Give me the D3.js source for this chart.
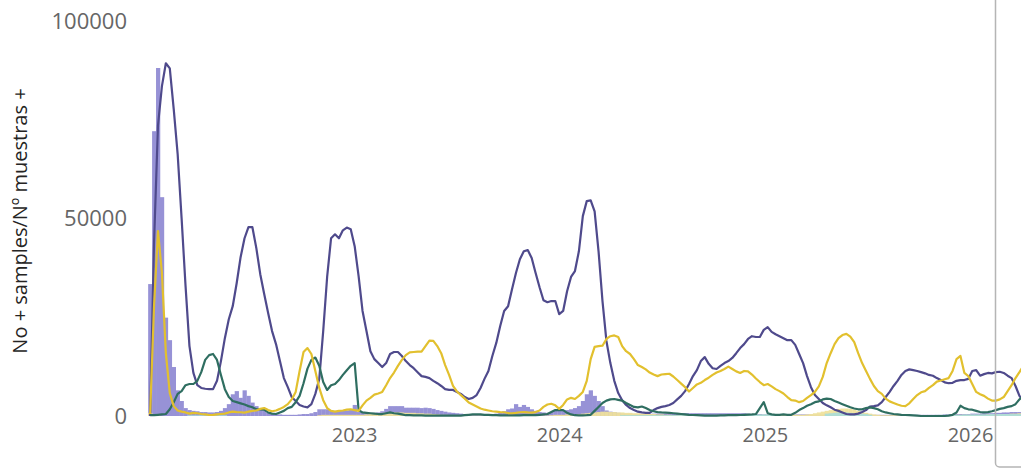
<!DOCTYPE html>
<html>
<head>
<meta charset="utf-8">
<script src="https://cdn.jsdelivr.net/npm/d3@7"></script>
<style>
  html, body { margin: 0; padding: 0; background: #ffffff; }
  svg { display: block; }
</style>
</head>
<body>
<div id="chart"></div>
<script>
// ---------------- DATA (weekly, starting 2022-01-03) ----------------
const startWeek = "2022-01-03";

const purpleLine = [
  0, 44000, 73600, 83500, 89300, 88000, 77700, 66300, 50100, 33000,
  17700, 10900, 7800, 7100, 6900, 6800, 6800, 8900, 13900, 19700,
  24500, 27800, 33600, 40200, 45000, 47800, 47800, 42500, 35900, 30900,
  26100, 21500, 18200, 13900, 9600, 7300, 4800, 3800, 2800, 2400,
  2200, 3000, 5600, 9400, 21500, 35200, 45000, 46000, 45000, 47000,
  47700, 47300, 43000, 35400, 26600, 21500, 16400, 14400, 13400, 12400,
  13400, 15700, 16200, 16200, 15200, 13900, 12900, 12100, 11100, 10100,
  9900, 9600, 8900, 8300, 7600, 6800, 6600, 6600, 6100, 5600,
  4800, 4300, 4600, 5300, 7100, 9400, 11400, 15200, 18500, 22800,
  26600, 27800, 32100, 36200, 39700, 41700, 42000, 40000, 36200, 32600,
  29300, 28800, 29100, 29100, 25800, 26600, 31600, 35200, 36700, 41700,
  50600, 54400, 54600, 51800, 41700, 29100, 19000, 13400, 8900, 5800,
  4000, 2800, 2000, 1500, 1100, 900, 800, 800, 1500, 2000,
  2300, 2500, 2800, 3300, 4200, 5100, 6300, 8100, 10100, 11600,
  13900, 14900, 13200, 12100, 11900, 12700, 13400, 13900, 14700, 15900,
  17200, 18200, 19500, 20200, 20000, 20000, 21800, 22500, 21300, 20700,
  20200, 19700, 19200, 19200, 18000, 15700, 13400, 10100, 7300, 5300,
  4300, 3300, 2700, 2200, 1600, 1300, 900, 500, 400, 400,
  600, 1000, 1500, 2400, 2500, 2700, 3500, 4800, 6100, 7600,
  8900, 10400, 11400, 11800, 11600, 11400, 11100, 10800, 10400, 10200,
  9600, 9100, 8500, 8300, 8400, 8900, 9100, 9100, 9400, 11400,
  11600, 10200, 10600, 10900, 10800, 11100, 11200, 10900, 10200, 9600,
  7600, 5100, 3800
];

const yellowLine = [
  500, 28000, 46800, 36200, 15900, 5800, 2500, 1400, 1100, 900,
  600, 800, 700, 500, 400, 250, 300, 400, 500, 600,
  900, 1100, 1000, 950, 850, 1100, 1300, 1400, 1800, 2000,
  1500, 1200, 1400, 1800, 2300, 3000, 4200, 6100, 11400, 16200,
  17200, 15700, 11400, 7100, 4000, 2000, 1300, 1100, 1300, 1400,
  1600, 1700, 1500, 1300, 2700, 3900, 4600, 5400, 5700, 6100,
  7800, 9600, 11000, 12700, 14200, 15400, 16100, 16200, 16300, 16300,
  17700, 19100, 19000, 17700, 15900, 12900, 10400, 7600, 6200, 5300,
  4400, 3400, 2900, 2400, 1900, 1600, 1400, 1200, 1100, 1000,
  950, 750, 700, 800, 950, 1000, 900, 850, 1000, 1400,
  2300, 2900, 3100, 2700, 1800, 2800, 4200, 4600, 4300, 5100,
  6100, 8900, 14400, 17500, 17700, 17800, 19500, 20200, 20400, 20000,
  17700, 16400, 15700, 14400, 12900, 12400, 11800, 11000, 10500, 10100,
  10500, 10600, 10700, 10000, 9100, 8200, 7300, 6200, 7100, 8000,
  8400, 9100, 9700, 10400, 11000, 11400, 11900, 12500, 11900, 11300,
  10900, 11400, 11300, 10500, 9500, 8600, 7800, 8100, 7500, 6800,
  6300, 5700, 4800, 4000, 3900, 3500, 3800, 4600, 5300, 6100,
  7500, 9900, 13400, 15900, 18200, 19700, 20500, 20800, 20100, 18700,
  15900, 13400, 11400, 9400, 7600, 6300, 5600, 4400, 3700, 3300,
  2900, 2600, 2500, 3200, 4300, 5300, 6000, 6300, 7100, 7800,
  8700, 9000, 9300, 9600, 11400, 14400, 15200, 10900, 10100, 8100,
  6100, 5500, 5100, 4400, 3900, 3900, 4200, 4800, 6300, 7800,
  9600, 11100, 12700
];

const greenLine = [
  200, 200, 300, 400, 500, 1700, 3500, 5600, 6300, 7800,
  8100, 8100, 8900, 11100, 14200, 15400, 15700, 14200, 10400, 6800,
  4800, 3800, 3500, 3200, 2900, 2500, 2200, 1700, 1700, 1600,
  900, 600, 500, 900, 1300, 2000, 2300, 3500, 5100, 8300,
  12000, 14200, 14800, 12700, 8600, 6600, 7800, 8100, 9100, 10400,
  11600, 12700, 13400, 1500, 900, 800, 700, 600, 500, 500,
  700, 900, 700, 600, 400, 200, 200, 150, 150, 150,
  100, 100, 100, 100, 100, 100, 100, 100, 100, 100,
  200, 300, 400, 400, 400, 300, 300, 200, 200, 150,
  150, 150, 150, 150, 150, 200, 200, 200, 200, 300,
  400, 500, 1000, 1500, 1500, 1500, 800, 400, 200, 150,
  150, 200, 300, 1300, 2300, 3300, 3900, 4200, 4300, 4100,
  3900, 3300, 2800, 2300, 2200, 2400, 2000, 1500, 1200, 1000,
  900, 850, 800, 700, 600, 500, 400, 300, 250, 200,
  150, 100, 100, 100, 100, 150, 150, 200, 200, 200,
  250, 300, 350, 400, 500, 2000, 3500, 700, 400, 300,
  300, 400, 300, 300, 800, 1500, 2000, 2600, 3000, 3500,
  3700, 4200, 4400, 4300, 3800, 3400, 3000, 2600, 2200, 1900,
  1700, 1700, 2000, 2200, 2000, 1700, 1200, 900, 700, 500,
  400, 300, 250, 200, 150, 100, 0, 0, 0, 0,
  0, 0, 0, 100, 300, 900, 2600, 2000, 1700, 1600,
  1300, 1000, 900, 1000, 1200, 1500, 1800, 2000, 2300, 2500,
  3000, 4200, 5000
];

const purpleBars = [
  33400, 72100, 88100, 55400, 24900, 19200, 12400, 6500, 3800, 2000,
  1500, 1300, 1200, 1000, 1000, 900, 900, 1000, 1300, 2000,
  3000, 5500, 6300, 4600, 6500, 5100, 3400, 2500, 1700, 1500,
  800, 500, 400, 400, 300, 300, 300, 300, 400, 500,
  500, 700, 1000, 1700, 1700, 1700, 1400, 1300, 1300, 1300,
  1400, 1500, 2800, 1000, 800, 800, 800, 800, 900, 1200,
  1800, 2500, 2500, 2500, 2500, 2100, 2100, 2100, 2100, 2000,
  2100, 2000, 1800, 1500, 1300, 1100, 900, 800, 700, 600,
  500, 400, 400, 400, 400, 400, 500, 500, 600, 900,
  1200, 1700, 1900, 3000, 2300, 2800, 2300, 1700, 1300, 1000,
  900, 800, 1000, 1300, 1300, 1300, 1500, 1700, 2000, 2500,
  3800, 5500, 6500, 5100, 3800, 2500, 1400, 1100, 1000, 800,
  700, 600, 600, 500, 500, 500, 500, 500, 600, 600,
  600, 600, 600, 600, 600, 700, 700, 700, 700, 700,
  700, 700, 700, 700, 700, 700, 700, 700, 700, 700,
  700, 700, 600, 500, 500, 500, 400, 400, 400, 400,
  400, 400, 400, 400, 400, 400, 400, 400, 400, 400,
  400, 400, 300, 300, 300, 300, 300, 300, 300, 300,
  300, 300, 300, 300, 300, 300, 300, 300, 300, 300,
  300, 300, 300, 300, 300, 300, 300, 300, 300, 300,
  300, 300, 400, 400, 400, 500, 500, 500, 500, 600,
  600, 600, 700, 700, 700, 800, 800, 900, 900, 1000,
  1000, 1000, 1100
];

const yellowBars = [
  800, 500, 300, 0, 0, 0, 0, 0, 0, 0,
  0, 0, 0, 0, 0, 0, 0, 0, 0, 0,
  0, 0, 0, 0, 0, 0, 0, 0, 0, 0,
  0, 0, 0, 0, 0, 0, 0, 0, 0, 0,
  0, 0, 0, 200, 300, 300, 300, 300, 300, 300,
  300, 300, 300, 300, 300, 400, 500, 600, 700, 800,
  800, 900, 900, 900, 900, 800, 800, 800, 700, 700,
  600, 600, 500, 400, 300, 300, 200, 200, 200, 200,
  100, 100, 100, 100, 100, 100, 100, 100, 100, 100,
  100, 100, 100, 100, 100, 100, 100, 100, 100, 100,
  100, 100, 200, 300, 300, 300, 400, 400, 500, 500,
  600, 700, 800, 900, 1000, 1100, 1100, 1000, 1000, 900,
  900, 800, 800, 700, 700, 600, 600, 500, 500, 400,
  400, 300, 300, 200, 200, 200, 200, 200, 200, 200,
  200, 200, 200, 200, 200, 200, 200, 200, 200, 200,
  200, 200, 200, 200, 200, 300, 300, 300, 300, 300,
  300, 300, 300, 300, 300, 300, 300, 400, 500, 700,
  900, 1100, 1300, 1500, 1700, 1800, 1900, 1900, 1800, 1600,
  1300, 1000, 800, 600, 400, 300, 200, 200, 200, 200,
  200, 200, 200, 200, 200, 200, 200, 200, 200, 200,
  200, 200, 200, 200, 300, 300, 300, 300, 300, 300,
  300, 300, 300, 400, 400, 400, 500, 500, 500, 600,
  600, 700, 700
];

const tealBars = [
  0, 0, 0, 0, 0, 0, 0, 0, 0, 0,
  200, 200, 200, 200, 200, 200, 200, 200, 200, 200,
  0, 0, 0, 0, 0, 0, 0, 0, 0, 0,
  0, 0, 0, 0, 0, 0, 0, 0, 0, 0,
  0, 0, 0, 0, 0, 0, 0, 0, 0, 0,
  0, 0, 0, 0, 0, 0, 0, 0, 0, 0,
  0, 0, 0, 0, 0, 0, 0, 0, 0, 0,
  0, 0, 0, 0, 0, 0, 0, 0, 0, 0,
  0, 0, 0, 0, 0, 0, 0, 0, 0, 0,
  0, 0, 0, 0, 0, 0, 0, 0, 0, 0,
  0, 0, 0, 0, 0, 0, 0, 0, 0, 0,
  0, 0, 0, 0, 0, 0, 0, 0, 0, 0,
  200, 200, 200, 200, 200, 200, 200, 200, 200, 200,
  200, 200, 200, 200, 200, 200, 200, 200, 200, 200,
  0, 0, 0, 0, 0, 0, 0, 0, 0, 0,
  400, 400, 400, 400, 400, 400, 400, 400, 400, 400,
  0, 0, 0, 0, 0, 0, 0, 0, 0, 0,
  0, 0, 600, 700, 800, 900, 900, 900, 800, 700,
  600, 600, 500, 300, 0, 0, 0, 0, 0, 0,
  0, 0, 0, 0, 0, 0, 0, 0, 0, 0,
  300, 300, 300, 300, 300, 300, 300, 400, 400, 400,
  400, 400, 400, 400, 500, 500, 500, 500, 500, 500,
  500, 500, 500
];

const yTicks = [0, 50000, 100000];
const xTickLabels = ["2023", "2024", "2025", "2026"];
const yTitle = "No + samples/Nº muestras +";

// ---------------- LAYOUT ----------------
const W = 1021, H = 469;
const FONT = "'Segoe UI', 'Open Sans', 'Noto Sans', sans-serif";
const svg = d3.select("#chart").append("svg")
  .attr("width", W).attr("height", H)
  .style("font-family", FONT);

const x = d3.scaleTime()
  .domain([new Date(2022, 0, 1), new Date(2026, 0, 1)])
  .range([149, 970]);
const y = d3.scaleLinear().domain([0, 100000]).range([416, 21]);

const t0 = d3.timeParse("%Y-%m-%d")(startWeek);
const dates = purpleLine.map((_, i) => d3.timeWeek.offset(t0, i));
const halfWeek = d => [d3.timeHour.offset(d, -84), d3.timeHour.offset(d, 84)];

function drawBars(vals, color, opacity) {
  svg.append("g").selectAll("rect")
    .data(vals.map((v, i) => ({ d: dates[i], v })).filter(p => p.v > 0))
    .join("rect")
    .attr("x", p => x(halfWeek(p.d)[0]))
    .attr("width", p => x(halfWeek(p.d)[1]) - x(halfWeek(p.d)[0]) + 0.3)
    .attr("y", p => y(p.v))
    .attr("height", p => y(0) - y(p.v))
    .attr("fill", color)
    .attr("fill-opacity", opacity);
}

drawBars(purpleBars, "#9792d6", 1);
drawBars(yellowBars, "#efe29c", 0.95);
drawBars(tealBars, "#a9ddd9", 0.9);

function drawLine(vals, color) {
  const line = d3.line()
    .x((v, i) => x(dates[i]))
    .y(v => y(v));
  svg.append("path")
    .datum(vals)
    .attr("fill", "none")
    .attr("stroke", color)
    .attr("stroke-width", 2.2)
    .attr("stroke-linejoin", "round")
    .attr("d", line);
}

drawLine(purpleLine, "#4f4a8c");
drawLine(greenLine, "#2f6e61");
drawLine(yellowLine, "#e2c02e");

// Y axis labels
const yAxis = d3.axisLeft(y).tickValues(yTicks).tickSize(0).tickPadding(0)
  .tickFormat(d3.format("d"));
const gy = svg.append("g").attr("transform", "translate(127,0)").call(yAxis);
gy.select(".domain").remove();
gy.selectAll("text")
  .attr("fill", "#666666")
  .style("font-size", "22px")
  .style("font-family", FONT);

// X axis labels
const yearDates = xTickLabels.map(s => new Date(+s, 0, 1));
const xAxis = d3.axisBottom(x).tickValues(yearDates).tickSize(0).tickPadding(0)
  .tickFormat(d3.timeFormat("%Y"));
const gx = svg.append("g").attr("transform", "translate(0,428)").call(xAxis);
gx.select(".domain").remove();
gx.selectAll("text")
  .attr("fill", "#666666")
  .attr("dy", "0.71em")
  .style("font-size", "20px")
  .style("font-family", FONT);

// Y title
svg.append("text")
  .attr("transform", "translate(27,221) rotate(-90)")
  .attr("text-anchor", "middle")
  .attr("fill", "#252423")
  .style("font-size", "20px")
  .text(yTitle);

// right-side panel border
svg.append("rect")
  .attr("x", 995.5).attr("y", -20)
  .attr("width", 120).attr("height", 487)
  .attr("rx", 4)
  .attr("fill", "none")
  .attr("stroke", "#b5b5b5")
  .attr("stroke-width", 1.5);
</script>
</body>
</html>
